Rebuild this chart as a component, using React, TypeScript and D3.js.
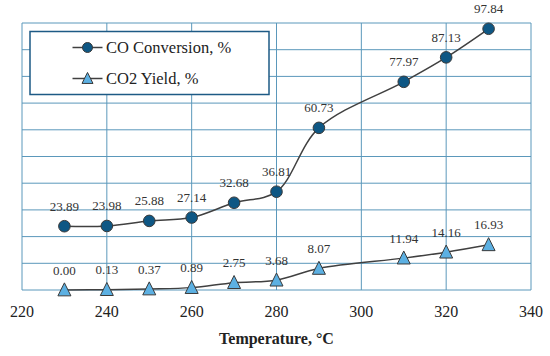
import * as d3 from 'd3'
import { useEffect, useRef } from 'react'

const temps = [230, 240, 250, 260, 270, 280, 290, 310, 320, 330]
const coConversion = [23.89, 23.98, 25.88, 27.14, 32.68, 36.81, 60.73, 77.97, 87.13, 97.84]
const co2Yield = [0.0, 0.13, 0.37, 0.89, 2.75, 3.68, 8.07, 11.94, 14.16, 16.93]
const xTicks = [220, 240, 260, 280, 300, 320, 340]
const seriesNames = ['CO Conversion, %', 'CO2 Yield, %']

const W = 550
const H = 356
const FONT = 'Liberation Serif, serif'

const App = () => {
  const svgRef = useRef<SVGSVGElement>(null)

  useEffect(() => {
    const svg = d3.select(svgRef.current)
    svg.selectAll('*').remove()

    const m = { top: 23, right: 19, bottom: 66, left: 22 }
    const x = d3.scaleLinear().domain([220, 340]).range([m.left, W - m.right])
    const y = d3.scaleLinear().domain([0, 100]).range([H - m.bottom, m.top])
    const grid = '#5b98bb'

    // grid
    const g = svg.append('g')
    g.selectAll('line.v')
      .data(xTicks)
      .join('line')
      .attr('x1', (d) => x(d))
      .attr('x2', (d) => x(d))
      .attr('y1', y(0))
      .attr('y2', y(100))
      .attr('stroke', grid)
      .attr('stroke-width', 1)
    g.selectAll('line.h')
      .data(d3.range(0, 101, 10))
      .join('line')
      .attr('x1', x(220))
      .attr('x2', x(340))
      .attr('y1', (d) => y(d))
      .attr('y2', (d) => y(d))
      .attr('stroke', grid)
      .attr('stroke-width', 1)

    // x axis labels
    svg
      .append('g')
      .selectAll('text')
      .data(xTicks)
      .join('text')
      .attr('x', (d) => x(d))
      .attr('y', y(0) + 27)
      .attr('text-anchor', 'middle')
      .attr('font-family', FONT)
      .attr('font-size', 16)
      .attr('fill', '#222')
      .text((d) => d)

    svg
      .append('text')
      .attr('x', (x(220) + x(340)) / 2)
      .attr('y', 344)
      .attr('text-anchor', 'middle')
      .attr('font-family', FONT)
      .attr('font-size', 16)
      .attr('font-weight', 'bold')
      .attr('fill', '#222')
      .text('Temperature, °C')

    const line = d3
      .line<number>()
      .x((d, i) => x(temps[i]))
      .y((d) => y(d))
      .curve(d3.curveCatmullRom.alpha(0.5))

    const series = [
      { values: coConversion, shape: 'circle', fill: '#0e5784' },
      { values: co2Yield, shape: 'triangle', fill: '#5cb0e2' },
    ]
    const tri = (cx: number, cy: number, s: number) =>
      `M${cx},${cy - s * 0.55}L${cx + s / 2},${cy + s * 0.45}L${cx - s / 2},${cy + s * 0.45}Z`

    series.forEach((s) => {
      svg
        .append('path')
        .attr('d', line(s.values))
        .attr('fill', 'none')
        .attr('stroke', '#404040')
        .attr('stroke-width', 1.5)
      const mk = svg.append('g')
      if (s.shape === 'circle') {
        mk.selectAll('circle')
          .data(s.values)
          .join('circle')
          .attr('cx', (d, i) => x(temps[i]))
          .attr('cy', (d) => y(d))
          .attr('r', 5.8)
          .attr('fill', s.fill)
          .attr('stroke', '#3a3a3a')
          .attr('stroke-width', 1)
      } else {
        mk.selectAll('path')
          .data(s.values)
          .join('path')
          .attr('d', (d, i) => tri(x(temps[i]), y(d), 13))
          .attr('fill', s.fill)
          .attr('stroke', '#3a3a3a')
          .attr('stroke-width', 1)
      }
      svg
        .append('g')
        .selectAll('text')
        .data(s.values)
        .join('text')
        .attr('x', (d, i) => x(temps[i]))
        .attr('y', (d) => y(d) - 15.5)
        .attr('text-anchor', 'middle')
        .attr('font-family', FONT)
        .attr('font-size', 13)
        .attr('fill', '#333')
        .text((d) => d.toFixed(2))
    })

    // legend
    const lg = svg.append('g')
    lg.append('rect')
      .attr('x', 30)
      .attr('y', 31.5)
      .attr('width', 239)
      .attr('height', 63)
      .attr('fill', 'white')
      .attr('stroke', '#1d5a85')
      .attr('stroke-width', 1.5)
    seriesNames.forEach((name, i) => {
      const cy = 47.5 + i * 31
      lg.append('line')
        .attr('x1', 72.5)
        .attr('x2', 102.5)
        .attr('y1', cy)
        .attr('y2', cy)
        .attr('stroke', '#404040')
        .attr('stroke-width', 1.5)
      if (i === 0) {
        lg.append('circle')
          .attr('cx', 87.5)
          .attr('cy', cy)
          .attr('r', 5)
          .attr('fill', series[0].fill)
          .attr('stroke', '#3a3a3a')
      } else {
        lg.append('path')
          .attr('d', tri(87.5, cy, 11))
          .attr('fill', series[1].fill)
          .attr('stroke', '#3a3a3a')
      }
      lg.append('text')
        .attr('x', 106)
        .attr('y', cy + 5.5)
        .attr('font-family', FONT)
        .attr('font-size', 16.5)
        .attr('fill', '#222')
        .text(name)
    })
  }, [])

  return (
    <div style={{ position: 'absolute', left: 0, top: 0 }}>
      <svg ref={svgRef} width={W} height={H} style={{ display: 'block', background: 'white' }}></svg>
    </div>
  )
}

export default App
